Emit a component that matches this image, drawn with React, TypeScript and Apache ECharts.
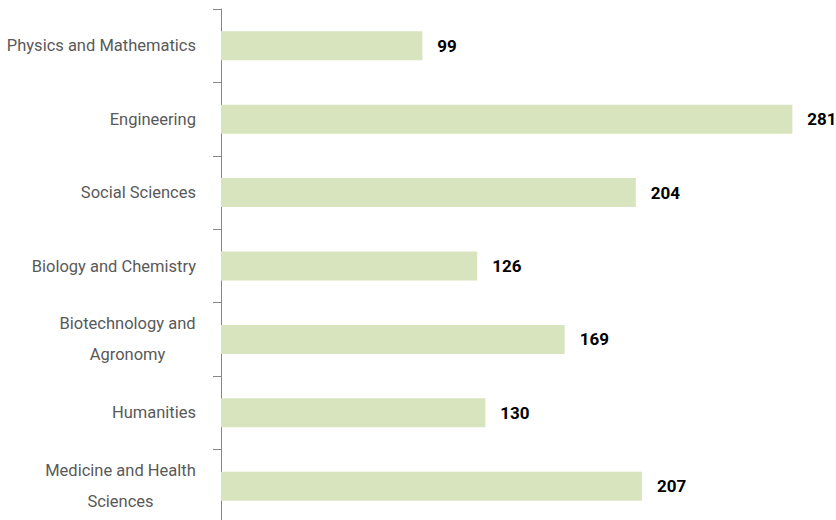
import React, { useEffect, useRef } from "react";
import * as echarts from "echarts";

const categories = [
  "Physics and Mathematics",
  "Engineering",
  "Social Sciences",
  "Biology and Chemistry",
  "Biotechnology and\nAgronomy",
  "Humanities",
  "Medicine and Health\nSciences",
];
const values = [99, 281, 204, 126, 169, 130, 207];

const FONT = 'Roboto, "Liberation Sans", sans-serif';
const LABEL_SIZE = 16.5;

function measure(text: string): number {
  const c = document.createElement("canvas").getContext("2d");
  if (!c) return text.length * 8;
  c.font = `${LABEL_SIZE}px ${FONT}`;
  return Math.ceil(c.measureText(text).width);
}

export default function App() {
  const ref = useRef<HTMLDivElement>(null);
  useEffect(() => {
    if (!ref.current) return;
    const chart = echarts.init(ref.current, undefined, { renderer: "svg" });
    const widths: Record<string, number> = {};
    categories.forEach((c) => {
      const lines = c.split("\n");
      if (lines.length > 1) {
        widths[c] = Math.max(...lines.map(measure));
      }
    });
    const rich: Record<string, any> = {};
    categories.forEach((c, i) => {
      if (widths[c]) {
        rich["c" + i] = {
          width: widths[c],
          align: "center",
          fontFamily: FONT,
          fontSize: LABEL_SIZE,
          color: "#595959",
          lineHeight: 31,
        };
      }
    });
    chart.setOption({
      animation: false,
      grid: {
        left: 221,
        top: 9,
        width: 610,
        height: 514,
        containLabel: false,
        outerBoundsMode: "none",
      },
      xAxis: {
        type: "value",
        min: 0,
        max: 300,
        show: false,
        splitLine: { show: false },
      },
      yAxis: {
        type: "category",
        inverse: true,
        data: categories,
        axisLine: { show: true, lineStyle: { color: "#868686", width: 1 } },
        axisTick: { show: true, length: 8, lineStyle: { color: "#868686" } },
        splitLine: { show: false },
        axisLabel: {
          margin: 25,
          color: "#595959",
          fontFamily: FONT,
          fontSize: LABEL_SIZE,
          lineHeight: 31,
          rich,
          formatter: (v: string) => {
            const i = categories.indexOf(v);
            if (widths[v]) {
              return v
                .split("\n")
                .map((l) => `{c${i}|${l}}`)
                .join("\n");
            }
            return v;
          },
        },
      },
      series: [
        {
          type: "bar",
          data: values,
          barWidth: 29,
          itemStyle: { color: "#d7e4bd" },
          label: {
            show: true,
            position: "right",
            distance: 15,
            color: "#000000",
            fontFamily: FONT,
            fontSize: 17,
            fontWeight: "bold",
          },
        },
      ],
    });
    return () => chart.dispose();
  }, []);
  return (
    <div
      ref={ref}
      style={{ position: "absolute", left: 0, top: 0, width: 836, height: 520, background: "#ffffff" }}
    />
  );
}
